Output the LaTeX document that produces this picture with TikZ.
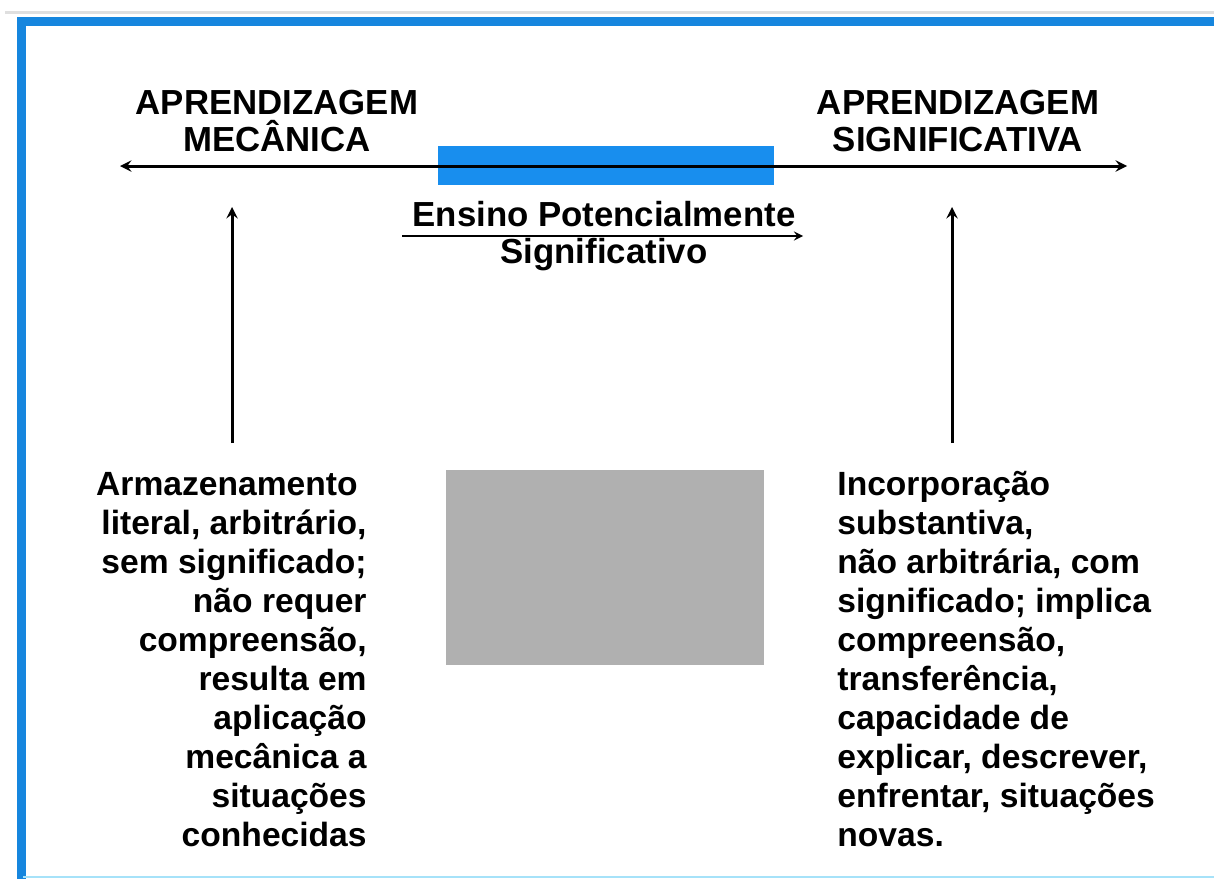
\documentclass[tikz,border=0pt]{standalone}
\usepackage{xcolor}
\usepackage{fontspec}
\setmainfont{Liberation Sans}
\usetikzlibrary{positioning,arrows}

\definecolor{frameblue}{RGB}{22,134,222}
\definecolor{barblue}{RGB}{24,142,238}
\definecolor{boxgray}{RGB}{176,176,176}

\begin{document}
\begin{tikzpicture}[x=0.5pt, y=-0.5pt, >=stealth,
    every node/.style={font=\bfseries\fontsize{17.4}{18.5}\selectfont, inner sep=0pt}]
            \useasboundingbox (0,0) rectangle (1214,878);
            % moldura
            \draw[gray!25, line width=1.5pt] (5,12) -- (1214,12);
            \draw[frameblue, line width=4.5pt] (1230,21) -- (21,21) -- (21,880);
            \draw[cyan!35, line width=1pt] (23,877) -- (1214,877);

            \node[align=center, anchor=north] (mecanica) at (277,90) {APRENDIZAGEM\\MEC\^ANICA};
            \node[align=center, anchor=north] (significativa) at (958,90) {APRENDIZAGEM\\SIGNIFICATIVA};

            \node[fill=barblue, minimum width=168pt, minimum height=19.5pt] (bar) at (606,165.5) {};
            \coordinate (mecl) at (120,166);
            \coordinate (sigr) at (1127,166);
            \draw[<->, line width=1.5pt] (mecl) -- (sigr);

            \node[align=center, anchor=north] (ensino) at (604,201) {Ensino Potencialmente\\Significativo};
            \coordinate (ensl) at (402,236);
            \coordinate (ensr) at (803,236);
            \draw[->, line width=1pt] (ensl) -- (ensr);

            \coordinate (mecbot) at (232,443);
            \coordinate (mectop) at (232,207);
            \coordinate (sigbot) at (952,443);
            \coordinate (sigtop) at (952,207);
            \draw[->, line width=1.5pt] (mecbot) -- (mectop);
            \draw[->, line width=1.5pt] (sigbot) -- (sigtop);

            \node[fill=boxgray, minimum width=159pt, minimum height=97.5pt] (box) at (605,567.5) {};

            \node[align=right, anchor=north east, font=\bfseries\fontsize{16.8}{19.5}\selectfont] (mectext) at (367,472)
                {Armazenamento\hspace*{4.5pt}\\literal, arbitr\'ario,\\sem significado;\\n\~ao requer\\compreens\~ao,\\resulta em\\aplica\c{c}\~ao\\mec\^anica a\\situa\c{c}\~oes\\conhecidas};
            \node[align=left, anchor=north west, font=\bfseries\fontsize{16.8}{19.5}\selectfont] (sigtext) at (837,471)
                {Incorpora\c{c}\~ao\\substantiva,\\n\~ao arbitr\'aria, com\\significado; implica\\compreens\~ao,\\transfer\^encia,\\capacidade de\\explicar, descrever,\\enfrentar, situa\c{c}\~oes\\novas.};
        \end{tikzpicture}
\end{document}
